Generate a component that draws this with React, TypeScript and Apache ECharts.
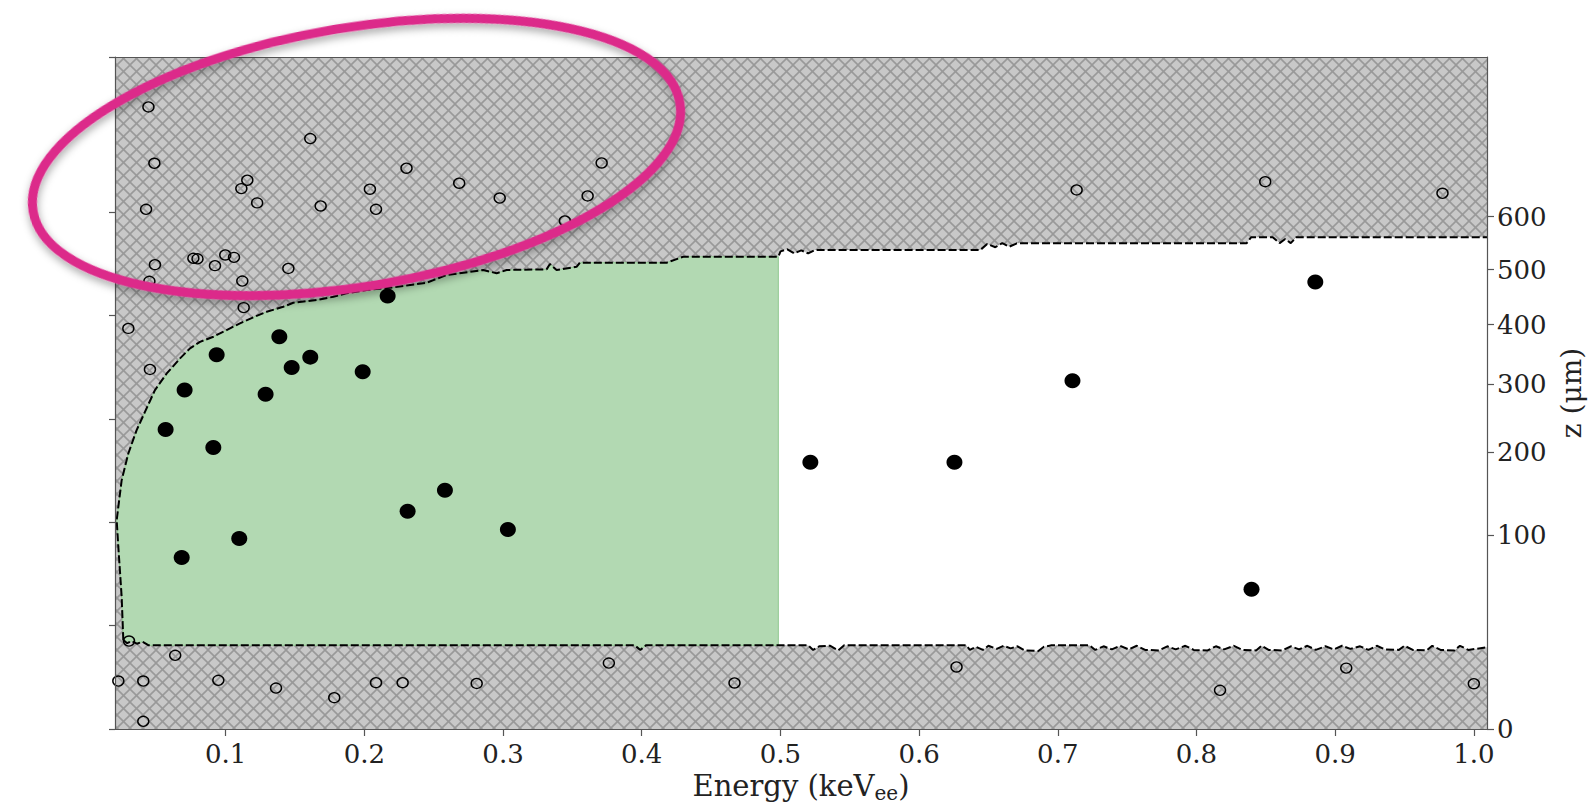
import React, { useEffect, useRef } from "react";
import * as echarts from "echarts";

// ---- axis ranges / ticks ----
const X_MIN = 0.0202;
const X_MAX = 1.0095;
const Y_MIN = 0;
const Y_MAX = 6.5;
const energyTicks = [0.1, 0.2, 0.3, 0.4, 0.5, 0.6, 0.7, 0.8, 0.9, 1.0];
const zTickLabels = [0, 100, 200, 300, 400, 500, 600];
const zTickPositions = [0, 1.877, 2.677, 3.334, 3.912, 4.444, 4.955];
const GREEN_EDGE = 0.4985;

// ---- events: [energy keVee, depth-parameter on left (unlabelled) axis] ----
const acceptedEvents: number[][] = [
  [0.2168, 4.188], [0.1387, 3.794], [0.0935, 3.62], [0.161, 3.597], [0.1476, 3.497],
  [0.1988, 3.455], [0.0704, 3.278], [0.1288, 3.239], [0.0567, 2.897], [0.0911, 2.723],
  [0.2581, 2.31], [0.2312, 2.106], [0.3035, 1.93], [0.1098, 1.842], [0.0683, 1.658],
  [0.5216, 2.581], [0.6255, 2.581], [0.7106, 3.368], [0.8857, 4.324], [0.8397, 1.351],
];

const rejectedEvents: number[][] = [
  [0.0443, 6.017], [0.161, 5.711], [0.0486, 5.472], [0.2304, 5.424], [0.2684, 5.279],
  [0.3711, 5.475], [0.2976, 5.136], [0.361, 5.156], [0.1156, 5.308], [0.1113, 5.227],
  [0.204, 5.221], [0.1227, 5.089], [0.0426, 5.027], [0.1685, 5.059], [0.2084, 5.027],
  [0.3446, 4.914], [0.0767, 4.553], [0.0797, 4.548], [0.0997, 4.585], [0.106, 4.562],
  [0.0923, 4.482], [0.1452, 4.455], [0.049, 4.491], [0.112, 4.333], [0.045, 4.33],
  [0.113, 4.076], [0.0298, 3.875], [0.0454, 3.478], [0.7136, 5.214], [0.8496, 5.294],
  [0.9774, 5.182],
  [0.0303, 0.851], [0.0636, 0.713], [0.0226, 0.464], [0.0406, 0.464], [0.0947, 0.471],
  [0.1363, 0.396], [0.1783, 0.303], [0.2084, 0.448], [0.2276, 0.448], [0.281, 0.441],
  [0.0406, 0.074], [0.3763, 0.638], [0.4669, 0.445], [0.627, 0.6], [0.817, 0.374],
  [0.908, 0.589], [1.0, 0.438],
];

// ---- acceptance-region boundaries ----
const upperEdge: number[][] = [
  [0.0262, 0.86], [0.025, 1.277], [0.0226, 1.761], [0.0214, 2.019], [0.025, 2.407],
  [0.0298, 2.665], [0.0358, 2.891], [0.0418, 3.068], [0.049, 3.278], [0.0575, 3.439],
  [0.0671, 3.585], [0.0743, 3.682], [0.0815, 3.745], [0.0911, 3.794], [0.1007, 3.859],
  [0.1103, 3.924], [0.1199, 3.982], [0.1296, 4.036], [0.1415, 4.084], [0.1487, 4.123],
  [0.1656, 4.149], [0.1776, 4.181], [0.1872, 4.214], [0.2017, 4.246], [0.2208, 4.272],
  [0.2449, 4.317], [0.2593, 4.391], [0.2857, 4.44], [0.2954, 4.408], [0.3026, 4.44],
  [0.3314, 4.446], [0.3338, 4.498], [0.3386, 4.44], [0.353, 4.471], [0.3554, 4.51],
  [0.4179, 4.51], [0.4299, 4.568], [0.4985, 4.568],
  [0.5001, 4.62], [0.505, 4.64], [0.51, 4.6], [0.515, 4.63], [0.52, 4.6], [0.5248, 4.633],
  [0.6441, 4.633], [0.6491, 4.691], [0.655, 4.66], [0.66, 4.7], [0.665, 4.665], [0.6705, 4.698],
  [0.8361, 4.698], [0.8394, 4.756], [0.855, 4.756], [0.86, 4.7], [0.864, 4.74], [0.868, 4.7],
  [0.872, 4.756], [1.0095, 4.756],
];

const lowerEdge: number[][] = [
  [0.0262, 0.86], [0.029, 0.83], [0.032, 0.85], [0.036, 0.825], [0.04, 0.845], [0.0445, 0.809],
  [0.395, 0.809], [0.399, 0.765], [0.403, 0.809], [0.4985, 0.809],
  [0.52, 0.809], [0.5236, 0.765], [0.528, 0.8], [0.536, 0.805], [0.5417, 0.76], [0.546, 0.809],
  [0.634, 0.809], [0.6366, 0.765], [0.641, 0.795], [0.646, 0.765], [0.65, 0.805], [0.656, 0.775],
  [0.661, 0.805], [0.666, 0.78], [0.671, 0.8], [0.676, 0.76], [0.686, 0.755], [0.69, 0.795],
  [0.695, 0.809], [0.723, 0.809], [0.727, 0.765], [0.733, 0.8], [0.739, 0.77], [0.745, 0.805],
  [0.751, 0.77], [0.757, 0.805], [0.763, 0.765], [0.773, 0.76], [0.779, 0.8], [0.785, 0.77],
  [0.792, 0.805], [0.798, 0.765], [0.808, 0.76], [0.814, 0.8], [0.82, 0.77], [0.827, 0.805],
  [0.833, 0.765], [0.843, 0.76], [0.847, 0.805], [0.852, 0.765], [0.862, 0.76], [0.868, 0.8],
  [0.874, 0.77], [0.88, 0.805], [0.886, 0.765], [0.893, 0.8], [0.899, 0.77], [0.905, 0.805],
  [0.911, 0.775], [0.918, 0.8], [0.924, 0.765], [0.93, 0.805], [0.936, 0.77], [0.946, 0.765],
  [0.95, 0.805], [0.956, 0.765], [0.966, 0.76], [0.97, 0.805], [0.976, 0.765], [0.986, 0.76],
  [0.99, 0.805], [0.996, 0.765], [1.0095, 0.79],
];

const FONT = "DejaVu Serif";
const AXIS_COLOR = "#555";
const TEXT_COLOR = "#222";

function makeHatch(): HTMLCanvasElement {
  const s = 13;
  const c = document.createElement("canvas");
  c.width = s;
  c.height = s;
  const ctx = c.getContext("2d")!;
  ctx.fillStyle = "#c8c8c8";
  ctx.fillRect(0, 0, s, s);
  ctx.strokeStyle = "#999999";
  ctx.lineWidth = 1.6;
  for (const off of [-s, 0, s]) {
    ctx.beginPath();
    ctx.moveTo(off, 0);
    ctx.lineTo(off + s, s);
    ctx.stroke();
    ctx.beginPath();
    ctx.moveTo(off, s);
    ctx.lineTo(off + s, 0);
    ctx.stroke();
  }
  return c;
}

function regionRenderer(maxE: number, fill: string, stroke: string) {
  return (_params: any, api: any) => {
    const up = upperEdge.filter((p) => p[0] <= maxE);
    const lo = lowerEdge.filter((p) => p[0] <= maxE).reverse();
    const pts = up.concat(lo).map((p) => api.coord(p));
    return {
      type: "polygon",
      shape: { points: pts },
      style: { fill, stroke, lineWidth: stroke === "none" ? 0 : 1 },
    };
  };
}

export default function App() {
  const ref = useRef<HTMLDivElement>(null);

  useEffect(() => {
    document.body.style.margin = "0";
    document.body.style.overflow = "hidden";
    if (!ref.current) return;
    const chart = echarts.init(ref.current, undefined, { renderer: "svg" });
    const hatch = makeHatch();

    const option: any = {
      animation: false,
      backgroundColor: "#ffffff",
      grid: {
        left: 115,
        right: 101,
        top: 57,
        bottom: 81,
        containLabel: false,
        outerBoundsMode: "none",
      },
      xAxis: [
        {
          type: "value",
          min: X_MIN,
          max: X_MAX,
          position: "bottom",
          z: 10,
          axisLine: { show: true, onZero: false, lineStyle: { color: AXIS_COLOR, width: 1.2 } },
          axisTick: {
            show: true,
            length: 7,
            customValues: energyTicks,
            lineStyle: { color: AXIS_COLOR, width: 1.2 },
          },
          axisLabel: {
            show: true,
            customValues: energyTicks,
            formatter: (v: number) => v.toFixed(1),
            margin: 12,
            fontFamily: FONT,
            fontSize: 26,
            color: TEXT_COLOR,
          },
          splitLine: { show: false },
          name: "{a|Energy (keV}{s|ee}{a|)}",
          nameLocation: "middle",
          nameGap: 40,
          nameTextStyle: {
            fontFamily: FONT,
            fontSize: 29,
            color: TEXT_COLOR,
            rich: {
              a: { fontFamily: FONT, fontSize: 29, color: TEXT_COLOR, lineHeight: 34 },
              s: { fontFamily: FONT, fontSize: 20, color: TEXT_COLOR, lineHeight: 20, verticalAlign: "bottom" },
            },
          },
        },
        {
          type: "value",
          min: X_MIN,
          max: X_MAX,
          position: "top",
          z: 10,
          axisLine: { show: true, onZero: false, lineStyle: { color: AXIS_COLOR, width: 1.2 } },
          axisTick: { show: false },
          axisLabel: { show: false },
          splitLine: { show: false },
        },
      ],
      yAxis: [
        {
          type: "value",
          min: Y_MIN,
          max: Y_MAX,
          interval: 1,
          position: "left",
          z: 10,
          axisLine: { show: true, onZero: false, lineStyle: { color: AXIS_COLOR, width: 1.2 } },
          axisTick: { show: true, length: 6, lineStyle: { color: AXIS_COLOR, width: 1.2 } },
          axisLabel: { show: false },
          splitLine: { show: false },
        },
        {
          type: "value",
          min: Y_MIN,
          max: Y_MAX,
          position: "right",
          z: 10,
          axisLine: { show: true, onZero: false, lineStyle: { color: AXIS_COLOR, width: 1.2 } },
          axisTick: {
            show: true,
            length: 7,
            customValues: zTickPositions,
            lineStyle: { color: AXIS_COLOR, width: 1.2 },
          },
          axisLabel: {
            show: true,
            customValues: zTickPositions,
            formatter: (v: number) => {
              let best = 0;
              let bd = Infinity;
              zTickPositions.forEach((p, i) => {
                const d = Math.abs(p - v);
                if (d < bd) {
                  bd = d;
                  best = i;
                }
              });
              return String(zTickLabels[best]);
            },
            margin: 10,
            fontFamily: FONT,
            fontSize: 26,
            color: TEXT_COLOR,
          },
          splitLine: { show: false },
          name: "z (μm)",
          nameLocation: "middle",
          nameRotate: 90,
          nameGap: 70,
          nameTextStyle: { fontFamily: FONT, fontSize: 28, color: TEXT_COLOR },
        },
      ],
      series: [
        {
          type: "custom",
          name: "rejected",
          xAxisIndex: 0,
          yAxisIndex: 0,
          z: 1,
          silent: true,
          encode: { x: [0, 2], y: [1, 3] },
          data: [[X_MIN, Y_MIN, X_MAX, Y_MAX]],
          renderItem: (_params: any, api: any) => {
            const p0 = api.coord([api.value(0), api.value(3)]);
            const p1 = api.coord([api.value(2), api.value(1)]);
            return {
              type: "rect",
              shape: { x: p0[0], y: p0[1], width: p1[0] - p0[0], height: p1[1] - p0[1] },
              style: {
                fill: { image: hatch, repeat: "repeat", imageWidth: 13, imageHeight: 13 },
              },
            };
          },
        },
        {
          type: "custom",
          name: "accepted region",
          z: 2,
          silent: true,
          data: [[X_MIN, Y_MIN]],
          renderItem: regionRenderer(Infinity, "#ffffff", "none"),
        },
        {
          type: "custom",
          name: "analysis region",
          z: 3,
          silent: true,
          data: [[X_MIN, Y_MIN]],
          renderItem: regionRenderer(GREEN_EDGE, "#b2d9b2", "#8fc78f"),
        },
        {
          type: "line",
          name: "upper edge",
          z: 4,
          silent: true,
          symbol: "none",
          data: upperEdge,
          lineStyle: { color: "#000", width: 2, type: [8, 3] },
        },
        {
          type: "line",
          name: "lower edge",
          z: 4,
          silent: true,
          symbol: "none",
          data: lowerEdge,
          lineStyle: { color: "#000", width: 2, type: [8, 3] },
        },
        {
          type: "scatter",
          name: "rejected events",
          z: 5,
          symbol: "circle",
          symbolSize: [11, 10],
          data: rejectedEvents,
          itemStyle: { color: "rgba(0,0,0,0)", borderColor: "#000", borderWidth: 1.4, opacity: 1 },
        },
        {
          type: "scatter",
          name: "accepted events",
          z: 6,
          symbol: "circle",
          symbolSize: [16, 15],
          data: acceptedEvents,
          itemStyle: { color: "#000", opacity: 1 },
        },
      ],
      graphic: [
        {
          type: "ellipse",
          x: 356.5,
          y: 157,
          rotation: 0.1655,
          z: 100,
          silent: true,
          shape: { cx: 0, cy: 0, rx: 328, ry: 129.5 },
          style: {
            fill: "none",
            stroke: "#dc2a8a",
            lineWidth: 9,
            shadowBlur: 8,
            shadowColor: "rgba(0,0,0,0.35)",
            shadowOffsetY: 4,
          },
        },
      ],
    };

    chart.setOption(option);
    return () => {
      chart.dispose();
    };
  }, []);

  return <div ref={ref} style={{ width: 1588, height: 810 }} />;
}
